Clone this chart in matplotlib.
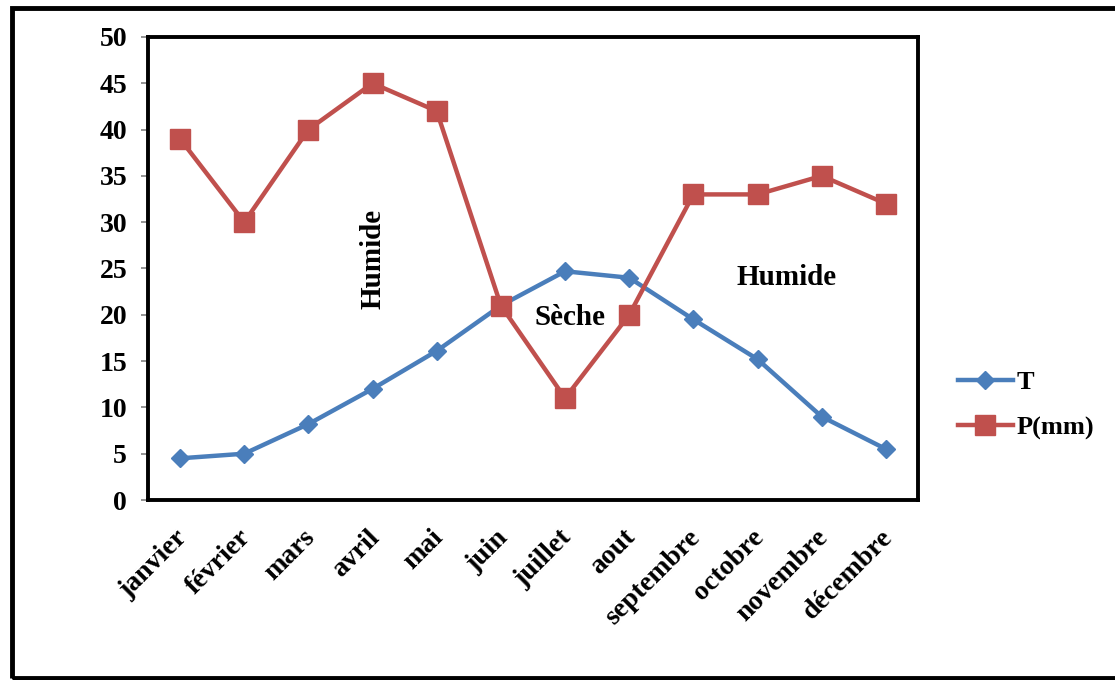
import matplotlib
matplotlib.use("Agg")
import matplotlib.pyplot as plt
from matplotlib.patches import Rectangle
from matplotlib.transforms import ScaledTranslation

months = ["janvier", "février", "mars", "avril", "mai", "juin", "juillet",
          "aout", "septembre", "octobre", "novembre", "décembre"]
temperature = [4.5, 5.0, 8.2, 12.0, 16.1, 21.0, 24.7, 24.0, 19.5, 15.2, 9.0, 5.5]
precipitation = [39, 30, 40, 45, 42, 21, 11, 20, 33, 33, 35, 32]
y_ticks = [0, 5, 10, 15, 20, 25, 30, 35, 40, 45, 50]

plt.rcParams["font.family"] = ["Liberation Serif", "DejaVu Serif"]
plt.rcParams["font.weight"] = "bold"

blue = "#4A7EBB"
red = "#C0504D"
fs = 20

fig = plt.figure(figsize=(11.15, 6.8), dpi=100)
ax = fig.add_axes([0.1327, 0.2647, 0.6906, 0.6809])

x = list(range(len(months)))
ax.plot(x, temperature, color=blue, lw=3.2, marker="D", ms=9.5,
        label="T", zorder=3)
ax.plot(x, precipitation, color=red, lw=3.2, marker="s", ms=14,
        label="P(mm)", zorder=3)

ax.set_xlim(-0.5, 11.5)
ax.set_ylim(0, 50)
ax.set_yticks(y_ticks)
ax.set_yticklabels([str(v) for v in y_ticks], fontsize=fs, fontweight="bold")
ax.set_xticks(x)
ax.set_xticklabels(months, rotation=45, ha="right", rotation_mode="anchor",
                   fontsize=fs, fontweight="bold")
ax.tick_params(axis="x", length=0, pad=18)
ax.tick_params(axis="y", length=5, width=1.2, color="#808080", pad=10,
               direction="out")
shift = ScaledTranslation(-6 / 100, 0, fig.dpi_scale_trans)
for lbl in ax.get_xticklabels():
    lbl.set_transform(lbl.get_transform() + shift)

for side in ["top", "right", "left", "bottom"]:
    ax.spines[side].set_linewidth(2.8)
    ax.spines[side].set_color("black")

ax.text(3.0, 26.0, "Humide", rotation=90, ha="center", va="center",
        fontsize=fs + 1, fontweight="bold")
ax.text(6.07, 19.7, "Sèche", ha="center", va="center",
        fontsize=fs + 1, fontweight="bold")
ax.text(9.45, 24.0, "Humide", ha="center", va="center",
        fontsize=fs + 1, fontweight="bold")

leg = fig.legend(loc="center left", bbox_to_anchor=(0.859, 0.404),
                 frameon=False, handlelength=2.1, borderpad=0,
                 borderaxespad=0, handletextpad=0.12, labelspacing=0.82,
                 prop={"weight": "bold", "size": 19})

# outer frame around the whole chart, open on the right
frame = Rectangle((12 / 1115, 2 / 680), 1.2, 670 / 680,
                  transform=fig.transFigure, fill=False, lw=3.5,
                  edgecolor="black", clip_on=False)
fig.patches.append(frame)

fig.savefig("out.png", dpi=100)
